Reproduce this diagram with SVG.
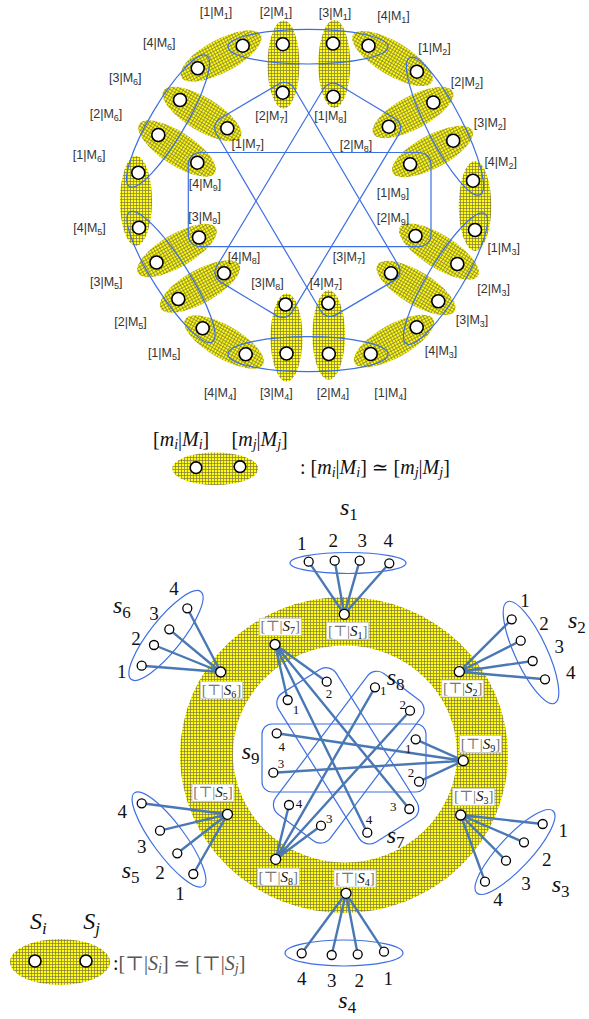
<svg xmlns="http://www.w3.org/2000/svg" width="589" height="1019" viewBox="0 0 589 1019">
<defs>
<pattern id="hatch" width="3" height="3" patternUnits="userSpaceOnUse">
<rect width="3" height="3" fill="#ffff00"/>
<path d="M0,1.5H3M1.5,0V3" stroke="#7d7650" stroke-width="0.7"/>
</pattern>
<style>
.y{fill:url(#hatch);stroke:none}
.b{fill:none;stroke:#3d6fe3;stroke-width:1.2}
.n{fill:#fff;stroke:#000;stroke-width:1.6}
.m{fill:#fff;stroke:#000;stroke-width:1.3}
.lb{font-family:"Liberation Sans",Arial,sans-serif;font-size:12.5px;fill:#333;text-anchor:middle}
.sb{font-size:9px}
.c{stroke:#4a78b5;stroke-width:2.4;fill:none;stroke-linecap:round}
.tx{font-family:"Liberation Serif","DejaVu Serif",serif;fill:#111}
.it{font-style:italic}
.num{font-family:"Liberation Serif","DejaVu Serif",serif;font-size:19px;fill:#111;text-anchor:middle}
.sm{font-family:"Liberation Serif","DejaVu Serif",serif;font-size:13px;fill:#111;text-anchor:middle}
.sl{font-family:"Liberation Serif","DejaVu Serif",serif;font-size:24px;font-style:italic;fill:#111}
.ss{font-size:17px;font-style:normal}
.box{fill:#fff;stroke:#c8c8c8;stroke-width:0.8}
.bx{font-family:"Liberation Serif","DejaVu Serif",serif;font-size:15px;fill:#777;text-anchor:middle}
</style>
</defs>
<rect width="589" height="1019" fill="#fff"/>

<!-- TOP: yellow pair ellipses -->
<g id="pairs">
<ellipse class="y" cx="0" cy="0" rx="45" ry="16.5" transform="translate(221,56) rotate(-28)"/>
<ellipse class="y" cx="283.5" cy="64.5" rx="16" ry="44"/>
<ellipse class="y" cx="334.3" cy="64" rx="16" ry="44"/>
<ellipse class="y" cx="0" cy="0" rx="46" ry="16.5" transform="translate(392.5,58.5) rotate(31)"/>
<ellipse class="y" cx="0" cy="0" rx="45" ry="16.5" transform="translate(413,112.5) rotate(-28)"/>
<ellipse class="y" cx="0" cy="0" rx="45" ry="16.5" transform="translate(432.5,151.5) rotate(-28)"/>
<ellipse class="y" cx="475" cy="206" rx="16.3" ry="45"/>
<ellipse class="y" cx="0" cy="0" rx="46" ry="16.5" transform="translate(439,251.5) rotate(32)"/>
<ellipse class="y" cx="0" cy="0" rx="45" ry="16.5" transform="translate(416,288) rotate(31)"/>
<ellipse class="y" cx="0" cy="0" rx="45" ry="16.5" transform="translate(394,341) rotate(-29)"/>
<ellipse class="y" cx="328.7" cy="335" rx="16.3" ry="44.7"/>
<ellipse class="y" cx="286.5" cy="337.5" rx="16" ry="44"/>
<ellipse class="y" cx="0" cy="0" rx="45" ry="16.5" transform="translate(224,342) rotate(30)"/>
<ellipse class="y" cx="0" cy="0" rx="45" ry="16.5" transform="translate(200,286.5) rotate(-29)"/>
<ellipse class="y" cx="0" cy="0" rx="45" ry="16.5" transform="translate(177,250.5) rotate(-30)"/>
<ellipse class="y" cx="136" cy="201" rx="16" ry="45"/>
<ellipse class="y" cx="0" cy="0" rx="45" ry="16.5" transform="translate(177,148.5) rotate(33)"/>
<ellipse class="y" cx="0" cy="0" rx="45" ry="16.5" transform="translate(202,114) rotate(31)"/>
</g>

<!-- TOP: module outlines -->
<g id="modules">
<ellipse id="M1" class="b" cx="308" cy="46.7" rx="80" ry="17.3"/>
<ellipse id="M2" class="b" cx="0" cy="0" rx="77" ry="17.5" transform="translate(445,126.2) rotate(62.8)"/>
<ellipse id="M3" class="b" cx="0" cy="0" rx="76" ry="17.5" transform="translate(445.5,278.7) rotate(121)"/>
<ellipse id="M4" class="b" cx="308" cy="354.2" rx="80" ry="17.5"/>
<ellipse id="M5" class="b" cx="0" cy="0" rx="77" ry="17.5" transform="translate(171,277) rotate(57.5)"/>
<ellipse id="M6" class="b" cx="0" cy="0" rx="76" ry="17.5" transform="translate(168,121) rotate(120.5)"/>
<rect id="M7" class="b" x="-114" y="-45" width="228" height="90" rx="11" transform="translate(307.3,199.4) rotate(59.5)"/>
<rect id="M8" class="b" x="-115" y="-44" width="230" height="88" rx="11" transform="translate(307.8,200.3) rotate(-59)"/>
<rect id="M9" class="b" x="188.3" y="152.5" width="242.7" height="94.2" rx="12"/>
</g>

<!-- TOP: nodes -->
<g id="n1M1"><circle class="n" cx="242.7" cy="45.7" r="6.5"/><text class="lb" x="216" y="16">[1|M<tspan class="sb" dy="3">1</tspan><tspan dy="-3">]</tspan></text></g>
<g id="n2M1"><circle class="n" cx="282.8" cy="44.2" r="6.5"/><text class="lb" x="276" y="15.5">[2|M<tspan class="sb" dy="3">1</tspan><tspan dy="-3">]</tspan></text></g>
<g id="n3M1"><circle class="n" cx="333" cy="43.5" r="6.5"/><text class="lb" x="335" y="16.7">[3|M<tspan class="sb" dy="3">1</tspan><tspan dy="-3">]</tspan></text></g>
<g id="n4M1"><circle class="n" cx="368.5" cy="45.7" r="6.5"/><text class="lb" x="393.5" y="20">[4|M<tspan class="sb" dy="3">1</tspan><tspan dy="-3">]</tspan></text></g>
<g id="n1M2"><circle class="n" cx="416.9" cy="71.7" r="6.5"/><text class="lb" x="434.5" y="52">[1|M<tspan class="sb" dy="3">2</tspan><tspan dy="-3">]</tspan></text></g>
<g id="n2M2"><circle class="n" cx="433.3" cy="102.5" r="6.5"/><text class="lb" x="467" y="85.5">[2|M<tspan class="sb" dy="3">2</tspan><tspan dy="-3">]</tspan></text></g>
<g id="n3M2"><circle class="n" cx="453.2" cy="140.7" r="6.5"/><text class="lb" x="490" y="126.7">[3|M<tspan class="sb" dy="3">2</tspan><tspan dy="-3">]</tspan></text></g>
<g id="n4M2"><circle class="n" cx="473" cy="180.7" r="6.5"/><text class="lb" x="500.7" y="166.3">[4|M<tspan class="sb" dy="3">2</tspan><tspan dy="-3">]</tspan></text></g>
<g id="n1M3"><circle class="n" cx="475" cy="230" r="6.5"/><text class="lb" x="503.7" y="252.3">[1|M<tspan class="sb" dy="3">3</tspan><tspan dy="-3">]</tspan></text></g>
<g id="n2M3"><circle class="n" cx="457.3" cy="264" r="6.5"/><text class="lb" x="493.6" y="293.3">[2|M<tspan class="sb" dy="3">3</tspan><tspan dy="-3">]</tspan></text></g>
<g id="n3M3"><circle class="n" cx="438.3" cy="301.3" r="6.5"/><text class="lb" x="472" y="324">[3|M<tspan class="sb" dy="3">3</tspan><tspan dy="-3">]</tspan></text></g>
<g id="n4M3"><circle class="n" cx="416.7" cy="327.3" r="6.5"/><text class="lb" x="441" y="354.5">[4|M<tspan class="sb" dy="3">3</tspan><tspan dy="-3">]</tspan></text></g>
<g id="n1M4"><circle class="n" cx="370.7" cy="354" r="6.5"/><text class="lb" x="390.5" y="396.5">[1|M<tspan class="sb" dy="3">4</tspan><tspan dy="-3">]</tspan></text></g>
<g id="n2M4"><circle class="n" cx="328.8" cy="354" r="6.5"/><text class="lb" x="333" y="396.5">[2|M<tspan class="sb" dy="3">4</tspan><tspan dy="-3">]</tspan></text></g>
<g id="n3M4"><circle class="n" cx="286.5" cy="353.5" r="6.5"/><text class="lb" x="276.4" y="397">[3|M<tspan class="sb" dy="3">4</tspan><tspan dy="-3">]</tspan></text></g>
<g id="n4M4"><circle class="n" cx="245.7" cy="354.3" r="6.5"/><text class="lb" x="220.2" y="396.5">[4|M<tspan class="sb" dy="3">4</tspan><tspan dy="-3">]</tspan></text></g>
<g id="n1M5"><circle class="n" cx="202.7" cy="328.3" r="6.5"/><text class="lb" x="164.2" y="357.3">[1|M<tspan class="sb" dy="3">5</tspan><tspan dy="-3">]</tspan></text></g>
<g id="n2M5"><circle class="n" cx="178.3" cy="299" r="6.5"/><text class="lb" x="130.5" y="325.7">[2|M<tspan class="sb" dy="3">5</tspan><tspan dy="-3">]</tspan></text></g>
<g id="n3M5"><circle class="n" cx="156.5" cy="262.5" r="6.5"/><text class="lb" x="106.3" y="285.7">[3|M<tspan class="sb" dy="3">5</tspan><tspan dy="-3">]</tspan></text></g>
<g id="n4M5"><circle class="n" cx="139" cy="227.7" r="6.5"/><text class="lb" x="89.5" y="232.3">[4|M<tspan class="sb" dy="3">5</tspan><tspan dy="-3">]</tspan></text></g>
<g id="n1M6"><circle class="n" cx="138.3" cy="172.7" r="6.5"/><text class="lb" x="89.1" y="159">[1|M<tspan class="sb" dy="3">6</tspan><tspan dy="-3">]</tspan></text></g>
<g id="n2M6"><circle class="n" cx="158.3" cy="135" r="6.5"/><text class="lb" x="106" y="118">[2|M<tspan class="sb" dy="3">6</tspan><tspan dy="-3">]</tspan></text></g>
<g id="n3M6"><circle class="n" cx="180" cy="100" r="6.5"/><text class="lb" x="125.3" y="81.5">[3|M<tspan class="sb" dy="3">6</tspan><tspan dy="-3">]</tspan></text></g>
<g id="n4M6"><circle class="n" cx="197.7" cy="68.3" r="6.5"/><text class="lb" x="159.3" y="46.7">[4|M<tspan class="sb" dy="3">6</tspan><tspan dy="-3">]</tspan></text></g>
<g id="n1M7"><circle class="n" cx="227.3" cy="128.3" r="6.5"/><text class="lb" x="247.8" y="148">[1|M<tspan class="sb" dy="3">7</tspan><tspan dy="-3">]</tspan></text></g>
<g id="n2M7"><circle class="n" cx="282.7" cy="92.7" r="6.5"/><text class="lb" x="271.5" y="120">[2|M<tspan class="sb" dy="3">7</tspan><tspan dy="-3">]</tspan></text></g>
<g id="n3M7"><circle class="n" cx="391" cy="273.3" r="6.5"/><text class="lb" x="349" y="260.7">[3|M<tspan class="sb" dy="3">7</tspan><tspan dy="-3">]</tspan></text></g>
<g id="n4M7"><circle class="n" cx="328.3" cy="303.3" r="6.5"/><text class="lb" x="326" y="287.3">[4|M<tspan class="sb" dy="3">7</tspan><tspan dy="-3">]</tspan></text></g>
<g id="n1M8"><circle class="n" cx="333.3" cy="96.7" r="6.5"/><text class="lb" x="330.5" y="120.3">[1|M<tspan class="sb" dy="3">8</tspan><tspan dy="-3">]</tspan></text></g>
<g id="n2M8"><circle class="n" cx="388.8" cy="126.7" r="6.5"/><text class="lb" x="356" y="149">[2|M<tspan class="sb" dy="3">8</tspan><tspan dy="-3">]</tspan></text></g>
<g id="n3M8"><circle class="n" cx="285.5" cy="304.5" r="6.5"/><text class="lb" x="267.5" y="287.3">[3|M<tspan class="sb" dy="3">8</tspan><tspan dy="-3">]</tspan></text></g>
<g id="n4M8"><circle class="n" cx="224" cy="273.3" r="6.5"/><text class="lb" x="244" y="260.7">[4|M<tspan class="sb" dy="3">8</tspan><tspan dy="-3">]</tspan></text></g>
<g id="n1M9"><circle class="n" cx="410.1" cy="164.3" r="6.5"/><text class="lb" x="393" y="196.5">[1|M<tspan class="sb" dy="3">9</tspan><tspan dy="-3">]</tspan></text></g>
<g id="n2M9"><circle class="n" cx="415.5" cy="236" r="6.5"/><text class="lb" x="393" y="222">[2|M<tspan class="sb" dy="3">9</tspan><tspan dy="-3">]</tspan></text></g>
<g id="n3M9"><circle class="n" cx="199" cy="237.5" r="6.5"/><text class="lb" x="204.5" y="221">[3|M<tspan class="sb" dy="3">9</tspan><tspan dy="-3">]</tspan></text></g>
<g id="n4M9"><circle class="n" cx="197.3" cy="162.7" r="6.5"/><text class="lb" x="205" y="188">[4|M<tspan class="sb" dy="3">9</tspan><tspan dy="-3">]</tspan></text></g>

<!-- MIDDLE legend -->
<g id="legend1">
<text class="tx" font-size="20" x="153" y="446">[<tspan class="it">m</tspan><tspan class="it" font-size="14" dy="3">i</tspan><tspan dy="-3">|</tspan><tspan class="it">M</tspan><tspan class="it" font-size="14" dy="3">i</tspan><tspan dy="-3">]</tspan></text>
<text class="tx" font-size="20" x="231.5" y="446">[<tspan class="it">m</tspan><tspan class="it" font-size="14" dy="3">j</tspan><tspan dy="-3">|</tspan><tspan class="it">M</tspan><tspan class="it" font-size="14" dy="3">j</tspan><tspan dy="-3">]</tspan></text>
<ellipse class="y" cx="215.3" cy="468.7" rx="43" ry="16.3"/>
<circle class="n" cx="196" cy="467.7" r="5.8"/>
<circle class="n" cx="240" cy="466.7" r="5.8"/>
<text class="tx" font-size="20" x="300" y="474">: [<tspan class="it">m</tspan><tspan class="it" font-size="14" dy="3">i</tspan><tspan dy="-3">|</tspan><tspan class="it">M</tspan><tspan class="it" font-size="14" dy="3">i</tspan><tspan dy="-3">] ≃ [</tspan><tspan class="it">m</tspan><tspan class="it" font-size="14" dy="3">j</tspan><tspan dy="-3">|</tspan><tspan class="it">M</tspan><tspan class="it" font-size="14" dy="3">j</tspan><tspan dy="-3">]</tspan></text>
</g>

<!-- BOTTOM -->
<path class="y" fill-rule="evenodd" d="M180,755a164,158 0 1,0 328,0a164,158 0 1,0 -328,0ZM233,754a112,108.5 0 1,0 224,0a112,108.5 0 1,0 -224,0Z"/>

<g id="groups">
<ellipse id="g-s1" class="b" cx="348" cy="563" rx="58" ry="10.5"/>
<ellipse id="g-s2" class="b" cx="0" cy="0" rx="56" ry="16" transform="translate(531,652.5) rotate(65)"/>
<ellipse id="g-s3" class="b" cx="0" cy="0" rx="56" ry="16" transform="translate(515,852) rotate(-47)"/>
<ellipse id="g-s4" class="b" cx="344" cy="953" rx="59" ry="13"/>
<ellipse id="g-s5" class="b" cx="0" cy="0" rx="58" ry="16" transform="translate(169,839.5) rotate(53.5)"/>
<ellipse id="g-s6" class="b" cx="0" cy="0" rx="56" ry="16" transform="translate(166,635.5) rotate(-51.5)"/>
<rect id="g-s7" class="b" x="-88" y="-34" width="176" height="68" rx="12" transform="translate(347.75,755.85) rotate(58)"/>
<rect id="g-s8" class="b" x="-88" y="-34" width="176" height="68" rx="12" transform="translate(348.75,757.2) rotate(-53)"/>
<rect id="g-s9" class="b" x="262" y="724" width="164" height="68" rx="10"/>
</g>

<g id="connectors">
<path class="c" d="M344.3,614.3L308.7,561.7M344.3,614.3L334.7,560.7M344.3,614.3L359.7,560.7M344.3,614.3L389.3,563.3"/>
<path class="c" d="M459.3,671.7L511.7,619.3M459.3,671.7L520.7,640.7M459.3,671.7L532.7,661M459.3,671.7L545,679.3"/>
<path class="c" d="M460.7,815L542.7,824M460.7,815L524,842.3M460.7,815L506,860.7M460.7,815L485,881.7"/>
<path class="c" d="M346,893.3L301.7,953.3M346,893.3L331.7,955M346,893.3L357.7,954.3M346,893.3L384,951.7"/>
<path class="c" d="M227.5,814.3L141.7,803.3M227.5,814.3L160,830.7M227.5,814.3L177.3,853.3M227.5,814.3L193.3,874"/>
<path class="c" d="M220.7,672L141.7,665.7M220.7,672L154,645M220.7,672L169.3,629.3M220.7,672L187.3,608.3"/>
<path class="c" d="M275,644.5L287.7,700M275,644.5L326.7,681.7M275,644.5L409.3,809M275,644.5L367.3,832.7"/>
<path class="c" d="M275.7,859.3L375,687.3M275.7,859.3L410,710.7M275.7,859.3L321,825.7M275.7,859.3L289,805"/>
<path class="c" d="M463.3,760.7L415.7,739.3M463.3,760.7L419,781.7M463.3,760.7L273.3,772.7M463.3,760.7L276.7,733.3"/>
</g>

<!-- S nodes with label boxes -->
<g id="S1"><rect class="box" x="326.7" y="622.5" width="42" height="17"/><text class="bx" x="347.7" y="635.5">[⊤|<tspan class="it" fill="#111">S</tspan><tspan font-size="10" dy="3" fill="#111">1</tspan><tspan dy="-3">]</tspan></text><circle class="m" cx="344.3" cy="614.3" r="5"/></g>
<g id="S2"><rect class="box" x="441.7" y="680" width="42" height="17"/><text class="bx" x="462.7" y="693">[⊤|<tspan class="it" fill="#111">S</tspan><tspan font-size="10" dy="3" fill="#111">2</tspan><tspan dy="-3">]</tspan></text><circle class="m" cx="459.3" cy="671.7" r="5"/></g>
<g id="S3"><rect class="box" x="452.7" y="788.3" width="42" height="17"/><text class="bx" x="473.7" y="801.3">[⊤|<tspan class="it" fill="#111">S</tspan><tspan font-size="10" dy="3" fill="#111">3</tspan><tspan dy="-3">]</tspan></text><circle class="m" cx="460.7" cy="815" r="5"/></g>
<g id="S4"><rect class="box" x="334" y="870" width="42" height="17"/><text class="bx" x="355" y="883">[⊤|<tspan class="it" fill="#111">S</tspan><tspan font-size="10" dy="3" fill="#111">4</tspan><tspan dy="-3">]</tspan></text><circle class="m" cx="346" cy="893.3" r="5"/></g>
<g id="S5"><rect class="box" x="192" y="784.3" width="42" height="17"/><text class="bx" x="213" y="797.3">[⊤|<tspan class="it" fill="#111">S</tspan><tspan font-size="10" dy="3" fill="#111">5</tspan><tspan dy="-3">]</tspan></text><circle class="m" cx="227.5" cy="814.3" r="5"/></g>
<g id="S6"><rect class="box" x="200.5" y="681.7" width="42" height="17"/><text class="bx" x="221.5" y="694.7">[⊤|<tspan class="it" fill="#111">S</tspan><tspan font-size="10" dy="3" fill="#111">6</tspan><tspan dy="-3">]</tspan></text><circle class="m" cx="220.7" cy="672" r="5"/></g>
<g id="S7"><rect class="box" x="259.3" y="618.3" width="42" height="17"/><text class="bx" x="280.3" y="631.3">[⊤|<tspan class="it" fill="#111">S</tspan><tspan font-size="10" dy="3" fill="#111">7</tspan><tspan dy="-3">]</tspan></text><circle class="m" cx="275" cy="644.5" r="5"/></g>
<g id="S8"><rect class="box" x="257.3" y="868.5" width="42" height="17"/><text class="bx" x="278.3" y="881.5">[⊤|<tspan class="it" fill="#111">S</tspan><tspan font-size="10" dy="3" fill="#111">8</tspan><tspan dy="-3">]</tspan></text><circle class="m" cx="275.7" cy="859.3" r="5"/></g>
<g id="S9"><rect class="box" x="459.5" y="735.5" width="42" height="17"/><text class="bx" x="480.5" y="748.5">[⊤|<tspan class="it" fill="#111">S</tspan><tspan font-size="10" dy="3" fill="#111">9</tspan><tspan dy="-3">]</tspan></text><circle class="m" cx="463.3" cy="760.7" r="5"/></g>

<!-- leaf nodes -->
<g id="s1"><circle class="m" cx="308.7" cy="561.7" r="4.5"/><circle class="m" cx="334.7" cy="560.7" r="4.5"/><circle class="m" cx="359.7" cy="560.7" r="4.5"/><circle class="m" cx="389.3" cy="563.3" r="4.5"/>
<text class="num" x="301.7" y="549.5">1</text><text class="num" x="333.3" y="546.5">2</text><text class="num" x="362.3" y="546.5">3</text><text class="num" x="388.3" y="546.5">4</text>
<text class="sl" x="340" y="515">s<tspan class="ss" dy="5">1</tspan></text></g>
<g id="s2"><circle class="m" cx="511.7" cy="619.3" r="4.5"/><circle class="m" cx="520.7" cy="640.7" r="4.5"/><circle class="m" cx="532.7" cy="661" r="4.5"/><circle class="m" cx="545" cy="679.3" r="4.5"/>
<text class="num" x="525" y="606.7">1</text><text class="num" x="544" y="630">2</text><text class="num" x="559.3" y="653.3">3</text><text class="num" x="570.7" y="679">4</text>
<text class="sl" x="568" y="627.7">s<tspan class="ss" dy="5">2</tspan></text></g>
<g id="s3"><circle class="m" cx="542.7" cy="824" r="4.5"/><circle class="m" cx="524" cy="842.3" r="4.5"/><circle class="m" cx="506" cy="860.7" r="4.5"/><circle class="m" cx="485" cy="881.7" r="4.5"/>
<text class="num" x="563.3" y="836.7">1</text><text class="num" x="546.7" y="866">2</text><text class="num" x="526" y="890">3</text><text class="num" x="498" y="906">4</text>
<text class="sl" x="551.7" y="891.7">s<tspan class="ss" dy="5">3</tspan></text></g>
<g id="s4"><circle class="m" cx="301.7" cy="953.3" r="4.5"/><circle class="m" cx="331.7" cy="955" r="4.5"/><circle class="m" cx="357.7" cy="954.3" r="4.5"/><circle class="m" cx="384" cy="951.7" r="4.5"/>
<text class="num" x="301.7" y="985">4</text><text class="num" x="331.7" y="986.5">3</text><text class="num" x="359.3" y="986.5">2</text><text class="num" x="388.3" y="985">1</text>
<text class="sl" x="338.3" y="1008">s<tspan class="ss" dy="5">4</tspan></text></g>
<g id="s5"><circle class="m" cx="141.7" cy="803.3" r="4.5"/><circle class="m" cx="160" cy="830.7" r="4.5"/><circle class="m" cx="177.3" cy="853.3" r="4.5"/><circle class="m" cx="193.3" cy="874" r="4.5"/>
<text class="num" x="122.3" y="818.3">4</text><text class="num" x="141.7" y="853.3">3</text><text class="num" x="160" y="879.3">2</text><text class="num" x="180" y="900">1</text>
<text class="sl" x="121.7" y="878.3">s<tspan class="ss" dy="5">5</tspan></text></g>
<g id="s6"><circle class="m" cx="141.7" cy="665.7" r="4.5"/><circle class="m" cx="154" cy="645" r="4.5"/><circle class="m" cx="169.3" cy="629.3" r="4.5"/><circle class="m" cx="187.3" cy="608.3" r="4.5"/>
<text class="num" x="174" y="595">4</text><text class="num" x="154" y="620">3</text><text class="num" x="136" y="645">2</text><text class="num" x="121.7" y="678.3">1</text>
<text class="sl" x="113" y="613">s<tspan class="ss" dy="5">6</tspan></text></g>
<g id="s7"><circle class="m" cx="287.7" cy="700" r="4.5"/><circle class="m" cx="326.7" cy="681.7" r="4.5"/><circle class="m" cx="409.3" cy="809" r="4.5"/><circle class="m" cx="367.3" cy="832.7" r="4.5"/>
<text class="sm" x="296" y="713.5">1</text><text class="sm" x="329" y="697.8">2</text><text class="sm" x="393.3" y="810.5">3</text><text class="sm" x="369" y="823.8">4</text>
<text class="sl" x="386.7" y="843.3">s<tspan class="ss" dy="5">7</tspan></text></g>
<g id="s8"><circle class="m" cx="375" cy="687.3" r="4.5"/><circle class="m" cx="410" cy="710.7" r="4.5"/><circle class="m" cx="321" cy="825.7" r="4.5"/><circle class="m" cx="289" cy="805" r="4.5"/>
<text class="sm" x="383.3" y="694.5">1</text><text class="sm" x="402.7" y="708.5">2</text><text class="sm" x="329.3" y="822.8">3</text><text class="sm" x="299" y="807.8">4</text>
<text class="sl" x="386.7" y="685">s<tspan class="ss" dy="5">8</tspan></text></g>
<g id="s9"><circle class="m" cx="415.7" cy="739.3" r="4.5"/><circle class="m" cx="419" cy="781.7" r="4.5"/><circle class="m" cx="273.3" cy="772.7" r="4.5"/><circle class="m" cx="276.7" cy="733.3" r="4.5"/>
<text class="sm" x="408.3" y="752.8">1</text><text class="sm" x="411" y="777.2">2</text><text class="sm" x="281" y="767.8">3</text><text class="sm" x="281.7" y="751.2">4</text>
<text class="sl" x="241.7" y="759.3">s<tspan class="ss" dy="5">9</tspan></text></g>

<!-- bottom legend -->
<g id="legend2">
<text class="sl" x="30" y="929">S<tspan class="it" font-size="17" dy="5">i</tspan></text>
<text class="sl" x="83.3" y="929">S<tspan class="it" font-size="17" dy="5">j</tspan></text>
<ellipse class="y" cx="60" cy="962" rx="50" ry="23"/>
<circle class="n" cx="35" cy="961" r="6"/>
<circle class="n" cx="86" cy="961" r="6"/>
<text class="tx" font-size="20" x="113" y="970">:<tspan fill="#555">[⊤|</tspan><tspan class="it" fill="#555">S</tspan><tspan class="it" font-size="14" dy="3" fill="#555">i</tspan><tspan dy="-3" fill="#555">] ≃ [⊤|</tspan><tspan class="it" fill="#555">S</tspan><tspan class="it" font-size="14" dy="3" fill="#555">j</tspan><tspan dy="-3" fill="#555">]</tspan></text>
</g>
</svg>
